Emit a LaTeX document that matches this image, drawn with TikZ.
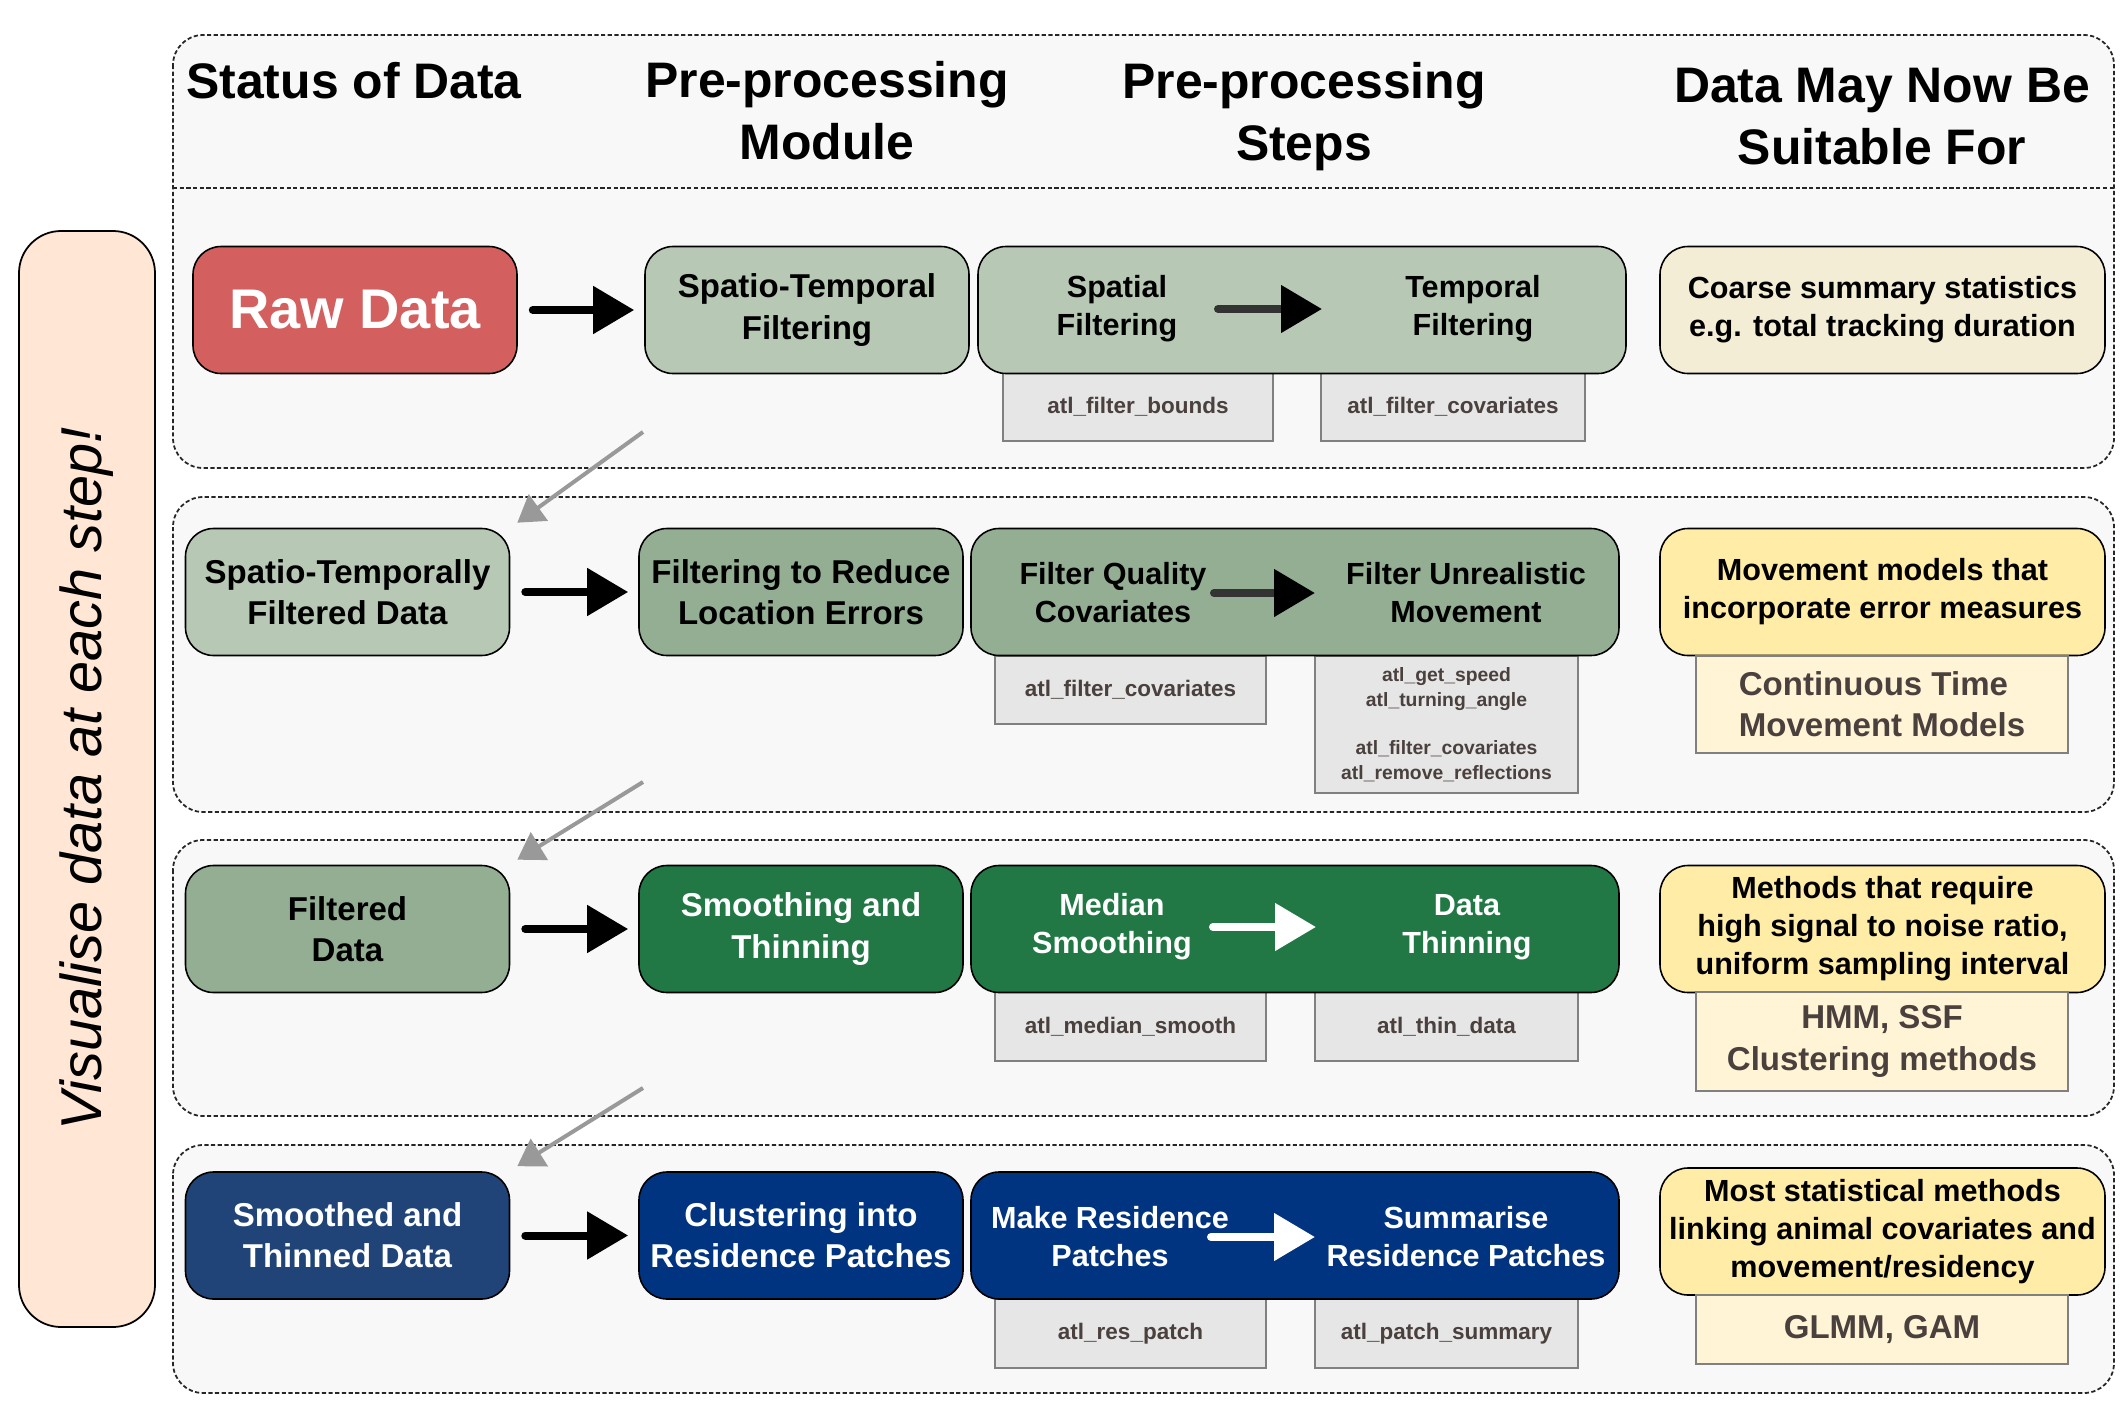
\documentclass[tikz,border=0pt]{standalone}
\usepackage{fontspec}
\setmainfont{Liberation Sans}
\usetikzlibrary{arrows.meta,positioning,calc}

\definecolor{rawred}{HTML}{D35F5F}
\definecolor{sagelight}{HTML}{B7C9B5}
\definecolor{sagemid}{HTML}{94AE94}
\definecolor{greendark}{HTML}{217844}
\definecolor{bluemid}{HTML}{214478}
\definecolor{bluedark}{HTML}{003380}
\definecolor{creamfill}{HTML}{F3EDD6}
\definecolor{yellowfill}{HTML}{FFECA7}
\definecolor{paleyellow}{HTML}{FFF4D5}
\definecolor{peach}{HTML}{FFE6D5}
\definecolor{fngray}{HTML}{E6E6E6}
\definecolor{fntext}{HTML}{4A403D}
\definecolor{rowfill}{HTML}{F8F8F8}

\newcommand{\hdrfont}{\fontsize{14.2}{17.6}\selectfont\bfseries}
\newcommand{\rawfont}{\fontsize{15.9}{19}\selectfont\bfseries}
\newcommand{\boxfont}{\fontsize{9.4}{11.7}\selectfont\bfseries}
\newcommand{\suitfont}{\fontsize{8.7}{10.8}\selectfont\bfseries}
\newcommand{\fnfont}{\fontsize{6.4}{7.7}\selectfont\bfseries}
\newcommand{\fnsmallfont}{\fontsize{5.5}{7.1}\selectfont\bfseries}
\newcommand{\visfont}{\fontsize{16.4}{19}\selectfont\itshape}

\tikzset{
  rowbox/.style={draw=black!85, fill=rowfill, dash pattern=on 1.2pt off 0.7pt, line width=0.5pt, rounded corners=0.3cm},
  rowline/.style={draw=black!85, dash pattern=on 1.2pt off 0.7pt, line width=0.5pt},
  visbox/.style={draw=black, fill=peach, line width=0.5pt, rounded corners=0.42cm, rotate=90, minimum width=10.96cm, minimum height=1.36cm, inner sep=0pt, font=\visfont},
  stage/.style={draw=black, line width=0.45pt, rounded corners=0.28cm, minimum width=3.24cm, minimum height=1.27cm, inner sep=0pt, align=center, font=\boxfont},
  stepbox/.style={stage, minimum width=6.48cm},
  steptext/.style={inner sep=0pt, align=center, font=\suitfont},
  suitbox/.style={stage, minimum width=4.45cm, font=\suitfont},
  subbox/.style={draw=black!50, fill=paleyellow, line width=0.5pt, minimum width=3.72cm, inner sep=0pt, text=fntext, font=\boxfont},
  fnbox/.style={draw=black!50, fill=fngray, line width=0.45pt, inner sep=0pt, align=center, text=fntext, font=\fnfont},
  bigarrow/.style={line width=0.08cm, line cap=round, -{Triangle[length=0.41cm,width=0.46cm]}, shorten <=0.15cm, shorten >=0.1cm},
  steparrow/.style={line width=0.08cm, line cap=round, draw=black!80, -{Triangle[length=0.41cm,width=0.46cm,color=black]}},
  whitearrow/.style={line width=0.08cm, line cap=round, draw=white, -{Triangle[length=0.41cm,width=0.46cm]}},
  grayarrow/.style={draw=black!40, line width=0.04cm, -{Triangle[length=0.26cm,width=0.32cm]}}
}

\begin{document}
\begin{tikzpicture}
\useasboundingbox (0,0) rectangle (21.26,-14.17);

\draw[rowbox] (1.73,-0.35) rectangle (21.14,-4.68);
\draw[rowline] (1.73,-1.88) -- (21.14,-1.88);
\draw[rowbox] (1.73,-4.97) rectangle (21.14,-8.12);
\draw[rowbox] (1.73,-8.40) rectangle (21.14,-11.16);
\draw[rowbox] (1.73,-11.45) rectangle (21.14,-13.93);

\node[visbox] (vis) at (0.87,-7.79) {Visualise data at each step!};

\node[font=\hdrfont] (hstatus) at (3.54,-0.81) {Status of Data};
\node[font=\hdrfont, align=center] (hmodule) at (8.27,-1.11) {Pre-processing\\Module};
\node[font=\hdrfont, align=center] (hsteps) at (13.04,-1.165) {Pre-processing\\Steps};
\node[font=\hdrfont, align=center] (hsuit) at (18.82,-1.165) {Data May Now Be\\Suitable For};

% raw data
\node[fnbox, minimum width=2.70cm, minimum height=0.68cm] (fa1) at (11.38,-4.07) {atl\_filter\_bounds};
\node[fnbox, minimum width=2.64cm, minimum height=0.68cm] (fb1) at (14.53,-4.07) {atl\_filter\_covariates};
\node[stage, fill=rawred, text=white, font=\rawfont] (raw) at (3.55,-3.10) {Raw Data};
\node[stage, fill=sagelight] (stf) at (8.07,-3.10) {Spatio-Temporal\\Filtering};
\node[stepbox, fill=sagelight] (st1) at (13.02,-3.10) {};
\node[steptext] (sa1) at (11.17,-3.09) {Spatial\\Filtering};
\node[steptext] (sb1) at (14.73,-3.09) {Temporal\\Filtering};
\node[suitbox, fill=creamfill] (su1) at (18.825,-3.10) {Coarse summary statistics\\e.g. total tracking duration};
\draw[bigarrow] (raw) -- (stf);
\draw[steparrow] ([xshift=1.01cm]sa1.center) -- ([xshift=-1.51cm]sb1.center);

% filtered in space and time
\node[fnbox, minimum width=2.71cm, minimum height=0.68cm] (fa2) at (11.305,-6.90) {atl\_filter\_covariates};
\node[fnbox, minimum width=2.63cm, minimum height=1.37cm, font=\fnsmallfont] (fb2) at (14.465,-7.245) {atl\_get\_speed\\atl\_turning\_angle\\[6.5pt]atl\_filter\_covariates\\atl\_remove\_reflections};
\node[stage, fill=sagelight] (std) at (3.475,-5.92) {Spatio-Temporally\\Filtered Data};
\node[stage, fill=sagemid] (flt) at (8.01,-5.92) {Filtering to Reduce\\Location Errors};
\node[stepbox, fill=sagemid] (st2) at (12.95,-5.92) {};
\node[steptext] (sa2) at (11.13,-5.93) {Filter Quality\\Covariates};
\node[steptext] (sb2) at (14.66,-5.93) {Filter Unrealistic\\Movement};
\node[suitbox, fill=yellowfill] (su2) at (18.825,-5.92) {Movement models that\\incorporate error measures};
\node[subbox, minimum height=0.97cm, align=left] (sv2) at (18.82,-7.045) {Continuous Time\\Movement Models};
\draw[bigarrow] (std) -- (flt);
\draw[steparrow] ([xshift=1.01cm]sa2.center) -- ([xshift=-1.51cm]sb2.center);

% filtered data
\node[fnbox, minimum width=2.71cm, minimum height=0.69cm] (fa3) at (11.305,-10.265) {atl\_median\_smooth};
\node[fnbox, minimum width=2.63cm, minimum height=0.69cm] (fb3) at (14.465,-10.265) {atl\_thin\_data};
\node[stage, fill=sagemid] (fd) at (3.475,-9.29) {Filtered\\Data};
\node[stage, fill=greendark, text=white] (smt) at (8.01,-9.29) {Smoothing and\\Thinning};
\node[stepbox, fill=greendark] (st3) at (12.95,-9.29) {};
\node[steptext, text=white] (sa3) at (11.12,-9.27) {Median\\Smoothing};
\node[steptext, text=white] (sb3) at (14.67,-9.27) {Data\\Thinning};
\node[suitbox, fill=yellowfill] (su3) at (18.825,-9.29) {Methods that require\\high signal to noise ratio,\\uniform sampling interval};
\node[subbox, minimum height=0.99cm, align=center] (sv3) at (18.82,-10.415) {HMM, SSF\\Clustering methods};
\draw[bigarrow] (fd) -- (smt);
\draw[whitearrow] ([xshift=1.01cm]sa3.center) -- ([xshift=-1.51cm]sb3.center);

% smoothed data
\node[fnbox, minimum width=2.71cm, minimum height=0.69cm] (fa4) at (11.305,-13.335) {atl\_res\_patch};
\node[fnbox, minimum width=2.63cm, minimum height=0.69cm] (fb4) at (14.465,-13.335) {atl\_patch\_summary};
\node[stage, fill=bluemid, text=white] (stt) at (3.475,-12.355) {Smoothed and\\Thinned Data};
\node[stage, fill=bluedark, text=white] (cls) at (8.01,-12.355) {Clustering into\\Residence Patches};
\node[stepbox, fill=bluedark] (st4) at (12.95,-12.355) {};
\node[steptext, text=white] (sa4) at (11.10,-12.37) {Make Residence\\Patches};
\node[steptext, text=white] (sb4) at (14.66,-12.37) {Summarise\\Residence Patches};
\node[suitbox, fill=yellowfill] (su4) at (18.825,-12.315) {Most statistical methods\\linking animal covariates and\\movement/residency};
\node[subbox, minimum height=0.69cm, align=center] (sv4) at (18.82,-13.295) {GLMM, GAM};
\draw[bigarrow] (stt) -- (cls);
\draw[whitearrow] ([xshift=1.01cm]sa4.center) -- ([xshift=-1.51cm]sb4.center);

\coordinate (g1) at (6.43,-4.32);
\coordinate (g2) at (6.43,-7.82);
\coordinate (g3) at (6.43,-10.88);
\draw[grayarrow] (g1) -- ([shift={(0.07,0.05)}]std.north east);
\draw[grayarrow] (g2) -- ([shift={(0.07,0.05)}]fd.north east);
\draw[grayarrow] (g3) -- ([shift={(0.07,0.05)}]stt.north east);
\end{tikzpicture}
\end{document}
